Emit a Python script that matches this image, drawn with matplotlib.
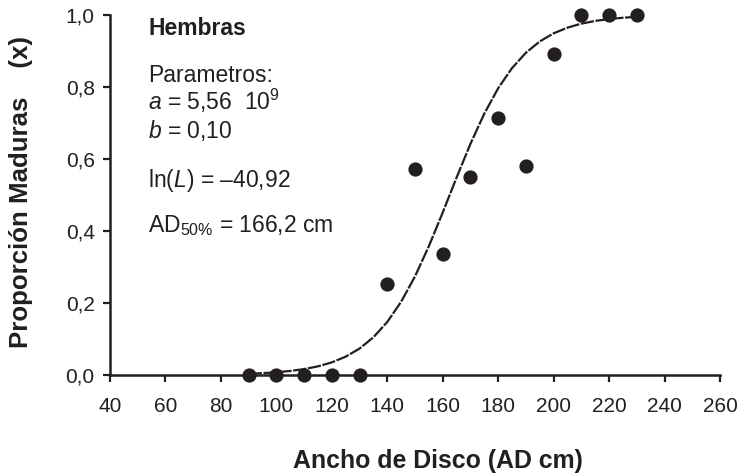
"""Proporcion de hembras maduras vs ancho de disco, con curva logistica ajustada."""

import matplotlib
matplotlib.use("Agg")
import matplotlib.pyplot as plt
from matplotlib.ticker import FuncFormatter

# observed proportions
ancho_disco = [90, 100, 110, 120, 130, 140, 150, 160, 170, 180, 190, 200, 210, 220, 230]
prop_maduras = [0.0, 0.0, 0.0, 0.0, 0.0, 0.252, 0.572, 0.335, 0.551, 0.713, 0.581, 0.891, 1.0, 1.0, 1.0]

# fitted curve, every 5 cm
curva_x = [90, 95, 100, 105, 110, 115, 120, 125, 130, 135, 140, 145, 150, 155, 160,
           165, 170, 175, 180, 185, 190, 195, 200, 205, 210, 215, 220, 225, 230]
curva_y = [0.0035, 0.0051, 0.0076, 0.0112, 0.0164, 0.0240, 0.0351, 0.0509, 0.0734,
           0.1048, 0.1474, 0.2034, 0.2739, 0.3578, 0.4514, 0.5486, 0.6422, 0.7261,
           0.7966, 0.8526, 0.8952, 0.9266, 0.9491, 0.9649, 0.9760, 0.9836, 0.9888,
           0.9924, 0.9949]

x_ticks = [40, 60, 80, 100, 120, 140, 160, 180, 200, 220, 240, 260]
y_ticks = [0.0, 0.2, 0.4, 0.6, 0.8, 1.0]

INK = "#231f20"

plt.rcParams["font.family"] = ["Liberation Sans", "DejaVu Sans"]
plt.rcParams["mathtext.fontset"] = "custom"
plt.rcParams["mathtext.rm"] = "Liberation Sans"
plt.rcParams["mathtext.it"] = "Liberation Sans:italic"
plt.rcParams["mathtext.bf"] = "Liberation Sans:bold"

W, H = 740, 475
fig = plt.figure(figsize=(W / 100, H / 100), dpi=100)
ax = fig.add_axes([110 / W, 1 - 375 / H, 610 / W, 360 / H])

ax.plot(curva_x, curva_y, color=INK, lw=1.6, dashes=(6, 0.7), zorder=2)
ax.scatter(ancho_disco, prop_maduras, s=105, color=INK, zorder=3, clip_on=False,
           linewidths=0)

ax.set_xlim(40, 260)
ax.set_ylim(0, 1.0)
ax.set_xticks(x_ticks)
ax.set_yticks(y_ticks)
ax.yaxis.set_major_formatter(FuncFormatter(lambda v, p: f"{v:.1f}".replace(".", ",")))

for side in ("top", "right"):
    ax.spines[side].set_visible(False)
for side in ("left", "bottom"):
    ax.spines[side].set_linewidth(1.8)
    ax.spines[side].set_color(INK)

ax.tick_params(axis="both", direction="out", length=5, width=1.6, colors=INK,
               labelsize=15, labelcolor=INK)
ax.tick_params(axis="x", pad=11)
ax.tick_params(axis="y", pad=6)

fig.text(438 / W, 1 - 461 / H, "Ancho de Disco (AD cm)", ha="center", va="center",
         fontsize=17.9, fontweight="bold", color=INK)
fig.text(21 / W, 1 - 192 / H, "Proporción Maduras    (x)", ha="center", va="center",
         rotation=90, fontsize=18.6, fontweight="bold", color=INK)

tx = (148 - 110) / 610
FS = 16.5
ax.text(tx, 0.944, "Hembras", transform=ax.transAxes, fontsize=16.5, fontweight="bold",
        color=INK, va="baseline")
ax.text(tx, 0.814, "Parametros:", transform=ax.transAxes, fontsize=FS, color=INK,
        va="baseline")
ax.text(tx, 0.736, r"$a$ = 5,56  10$^{9}$", transform=ax.transAxes, fontsize=FS,
        color=INK, va="baseline")
ax.text(tx, 0.658, r"$b$ = 0,10", transform=ax.transAxes, fontsize=FS, color=INK,
        va="baseline")
ax.text(tx, 0.522, r"ln($L$) = –40,92", transform=ax.transAxes, fontsize=FS,
        color=INK, va="baseline")
ax.text(tx, 0.397, r"AD$_{50\%}$ = 166,2 cm", transform=ax.transAxes, fontsize=FS,
        color=INK, va="baseline")

fig.savefig("out.png", dpi=100)
